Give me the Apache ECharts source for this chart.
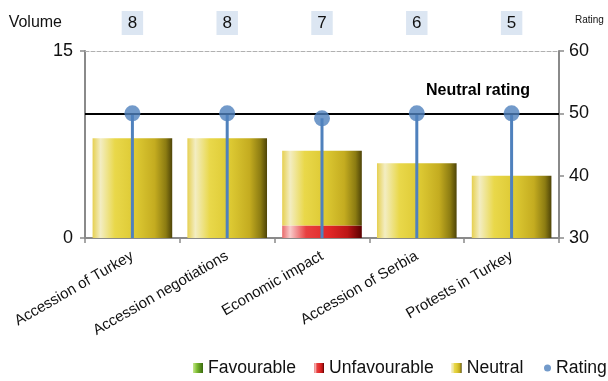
<!DOCTYPE html>
<html><head><meta charset="utf-8">
<script src="https://cdn.jsdelivr.net/npm/echarts@6/dist/echarts.min.js"></script>
<style>html,body{margin:0;padding:0;background:#fff}#c{width:608px;height:381px}</style>
</head><body><div id="c"></div>
<script>
var categories = ['Accession of Turkey','Accession negotiations','Economic impact','Accession of Serbia','Protests in Turkey'];
var favourable = [0,0,0,0,0];
var unfavourable = [0,0,1,0,0];
var neutral = [8,8,6,6,5];
var totals = ['8','8','7','6','5'];
var rating = [50,50,49.2,50,50];
var neutralRating = 50;

var F = 'Liberation Sans, Arial, sans-serif';
function hgrad(stops){return new echarts.graphic.LinearGradient(0,0,1,0,stops.map(function(s){return {offset:s[0],color:s[1]};}));}
var yellow = hgrad([[0,'#e6d050'],[0.1,'#f3edc2'],[0.28,'#e9d84a'],[0.55,'#dcc832'],[0.78,'#c4ac20'],[0.92,'#8c7c12'],[1,'#4e4408']]);
var red = hgrad([[0,'#e86a6a'],[0.1,'#f8caca'],[0.3,'#e84040'],[0.6,'#e02626'],[0.82,'#bc1616'],[1,'#5a0000']]);
var green = hgrad([[0,'#c8e890'],[0.4,'#7cbc30'],[1,'#3a6a10']]);
var blue = '#4f81bd';
var axisGray = '#8a8a8a';

var chart = echarts.init(document.getElementById('c'));
chart.setOption({
  animation:false,
  textStyle:{fontFamily:F},
  grid:{left:85,right:49,top:51,bottom:143},
  legend:[{
    left:193, top:359, padding:0, icon:'rect', itemWidth:10, itemHeight:10, itemGap:18,
    textStyle:{fontSize:17.6,color:'#111',fontFamily:F},
    data:['Favourable','Unfavourable','Neutral']
  },{
    left:544, top:359, padding:0, icon:'circle', itemWidth:7, itemHeight:7, itemGap:0,
    textStyle:{fontSize:17.6,color:'#111',fontFamily:F},
    data:['Rating']
  }],
  xAxis:[{
    type:'category', data:categories, position:'bottom',
    axisLine:{lineStyle:{color:axisGray,width:2}},
    axisTick:{show:true,length:5,lineStyle:{color:axisGray,width:1.5}},
    axisLabel:{rotate:30,fontSize:15,color:'#111',margin:17,interval:0}
  },{
    type:'category', data:categories, show:false
  },{
    type:'category', data:totals, position:'top',
    axisLine:{lineStyle:{color:'#b0b0b0',type:'dashed',width:1}},
    axisTick:{show:false},
    axisLabel:{fontSize:17,color:'#111',margin:16,backgroundColor:'#dce6f2',padding:[4,6,3,6],interval:0}
  }],
  yAxis:[{
    type:'value', min:0, max:15, interval:15,
    name:'Volume', nameLocation:'end', nameGap:28,
    nameTextStyle:{fontSize:16,color:'#111',align:'right',verticalAlign:'middle',padding:[0,23,0,0]},
    axisLine:{show:true,lineStyle:{color:axisGray,width:2}},
    axisTick:{show:true,length:5,lineStyle:{color:axisGray,width:1.5}},
    axisLabel:{fontSize:18,color:'#111',margin:12},
    splitLine:{show:false}
  },{
    type:'value', min:30, max:60, interval:10, position:'right',
    name:'Rating', nameLocation:'end', nameGap:31,
    nameTextStyle:{fontSize:10,color:'#111',align:'left',verticalAlign:'middle',padding:[0,0,0,16]},
    axisLine:{show:true,lineStyle:{color:axisGray,width:2}},
    axisTick:{show:true,length:5,lineStyle:{color:axisGray,width:1.5}},
    axisLabel:{fontSize:18,color:'#111',margin:10},
    splitLine:{show:false}
  }],
  series:[{
    name:'Favourable', type:'bar', stack:'v', data:favourable, barCategoryGap:'16%',
    itemStyle:{color:green}
  },{
    name:'Unfavourable', type:'bar', stack:'v', data:unfavourable, barCategoryGap:'16%',
    itemStyle:{color:red}
  },{
    name:'Neutral', type:'bar', stack:'v', data:neutral, barCategoryGap:'16%',
    itemStyle:{color:yellow}
  },{
    name:'RatingStem', type:'bar', xAxisIndex:1, yAxisIndex:1, data:rating, barWidth:3,
    itemStyle:{color:blue}, clip:true, silent:true
  },{
    name:'Rating', type:'scatter', xAxisIndex:1, yAxisIndex:1, data:rating, symbolSize:16,
    itemStyle:{color:blue}, z:5,
    markLine:{
      silent:true, symbol:'none',
      lineStyle:{color:'#000',width:2,type:'solid'},
      label:{show:true,position:'insideEndTop',formatter:'Neutral rating',fontSize:16,fontWeight:'bold',color:'#000',padding:[0,24,10,0]},
      data:[{yAxis:neutralRating}]
    }
  }]
});
</script></body></html>
